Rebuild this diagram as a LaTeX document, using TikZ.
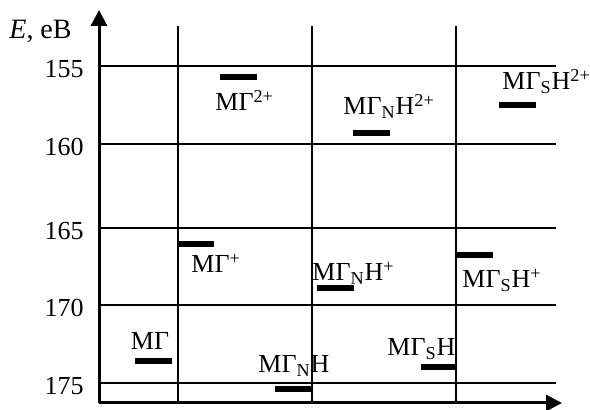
\documentclass[tikz,border=0pt]{standalone}
\usepackage{fontspec}
\setmainfont{Liberation Serif}
\usetikzlibrary{arrows.meta}

\begin{document}
\begin{tikzpicture}[x=0.5pt, y=-0.5pt,
    grid/.style={line width=1pt},
    axis/.style={line width=1.5pt, -{Triangle[length=8pt,width=8pt]}},
    lvl/.style={line width=3pt},
    lbl/.style={inner sep=0pt, font=\fontsize{13}{15}\selectfont}]
    \useasboundingbox (0,0) rectangle (590,410);

    \foreach \y/\e in {66/155, 144/160, 228/165, 305/170, 383/175} {
        \draw[grid] (99,\y) -- (556,\y);
        \node (t\e) at (84,{\y+11.5}) [lbl, anchor=base east] {\e};
    }
    \foreach \x in {178, 312, 456}
        \draw[grid] (\x,26) -- (\x,403);

    \coordinate (o) at (99,403);
    \coordinate (ytip) at (99,10);
    \coordinate (xtip) at (562,403);
    \draw[axis] (o) -- (ytip);
    \draw[axis] (o) -- (xtip);
    \node (eunit) at (9,39) [lbl, anchor=base west, font=\fontsize{14}{16}\selectfont] {\textit{E}, eB};

    \draw[lvl] (135,361) -- (172,361);
    \node (mg) at (150,350) [lbl, anchor=base] {MΓ};

    \draw[lvl] (178,244) -- (214,244);
    \node (mgp) at (191,273) [lbl, anchor=base west] {MΓ\textsuperscript{+}};

    \draw[lvl] (220,77) -- (257,77);
    \node (mgpp) at (215,111) [lbl, anchor=base west] {MΓ\textsuperscript{2+}};

    \draw[lvl] (275,389) -- (311,389);
    \node (mgn) at (258,373) [lbl, anchor=base west] {MΓ\textsubscript{N}H};

    \draw[lvl] (317,288) -- (354,288);
    \node (mgnp) at (312,281) [lbl, anchor=base west] {MΓ\textsubscript{N}H\textsuperscript{+}};

    \draw[lvl] (353,133) -- (390,133);
    \node (mgnpp) at (343,115) [lbl, anchor=base west] {MΓ\textsubscript{N}H\textsuperscript{2+}};

    \draw[lvl] (421,367) -- (456,367);
    \node (mgs) at (387,356) [lbl, anchor=base west] {MΓ\textsubscript{S}H};

    \draw[lvl] (456,255) -- (493,255);
    \node (mgsp) at (462,288) [lbl, anchor=base west] {MΓ\textsubscript{S}H\textsuperscript{+}};

    \draw[lvl] (499,105) -- (536,105);
    \node (mgspp) at (502,90) [lbl, anchor=base west] {MΓ\textsubscript{S}H\textsuperscript{2+}};
\end{tikzpicture}
\end{document}
